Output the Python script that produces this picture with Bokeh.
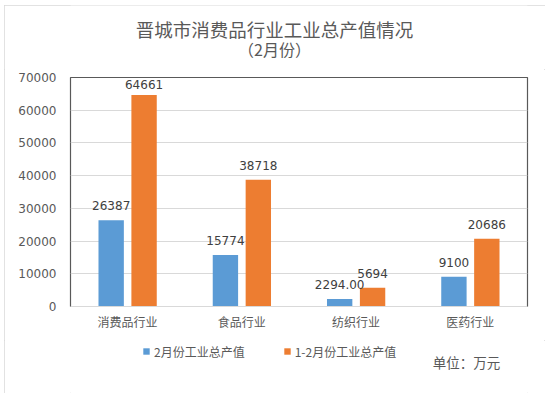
from bokeh.plotting import figure
from bokeh.layouts import column
from bokeh.models import (ColumnDataSource, FactorRange, Range1d, FixedTicker,
                          Label, Legend, LegendItem)
from bokeh.transform import dodge
from bokeh.core.properties import value
from bokeh.embed import file_html
from bokeh.resources import INLINE

categories = ["消费品行业", "食品行业", "纺织行业", "医药行业"]
feb_values = [26387, 15774, 2294.00, 9100]
janfeb_values = [64661, 38718, 5694, 20686]
feb_labels = ["26387", "15774", "2294.00", "9100"]
janfeb_labels = ["64661", "38718", "5694", "20686"]
series_names = ["2月份工业总产值", "1-2月份工业总产值"]
y_ticks = [0, 10000, 20000, 30000, 40000, 50000, 60000, 70000]
title_line1 = "晋城市消费品行业工业总产值情况"
title_line2 = "（2月份）"
unit_text = "单位：万元"

BLUE = "#5b9bd5"
ORANGE = "#ed7d31"
GRAY = "#595959"
CJK = "Noto Sans CJK SC"
NUM = "DejaVu Sans"
W = 541
YMAX = 70000
FRAME_H = 229


def strip(top_abs, bottom_abs):
    # blank strip whose data coordinates equal page pixels
    f = figure(width=W, height=bottom_abs - top_abs,
               x_range=Range1d(70, 527), y_range=Range1d(bottom_abs, top_abs),
               output_backend="svg", toolbar_location=None,
               x_axis_location=None, y_axis_location=None,
               min_border_left=66, min_border_right=18,
               min_border_top=0, min_border_bottom=0)
    f.xgrid.grid_line_color = None
    f.ygrid.grid_line_color = None
    f.outline_line_color = None
    f.background_fill_color = "white"
    f.border_fill_color = "white"
    return f


# ---- title strip (page y 5..69) ----
top = strip(5, 69)
top.add_layout(Label(x=274, y=28, text=title_line1, text_align="center",
                     text_baseline="middle", text_font=CJK, text_font_size="18.5px",
                     text_color=GRAY))
top.add_layout(Label(x=274, y=48, text=title_line2, text_align="center",
                     text_baseline="middle", text_font=CJK, text_font_size="16px",
                     text_color=GRAY))

# ---- main chart (page y 69..340, frame 77..306) ----
px = YMAX / FRAME_H
feb_ly = [min(v + 14.5 * px, YMAX - 6.7 * px) for v in feb_values]
jf_ly = [min(v + 14.5 * px, YMAX - 6.7 * px) for v in janfeb_values]
source = ColumnDataSource(dict(
    cat=categories, feb=feb_values, jf=janfeb_values,
    feb_lbl=feb_labels, jf_lbl=janfeb_labels, feb_ly=feb_ly, jf_ly=jf_ly,
))

p = figure(
    width=W, height=271,
    x_range=FactorRange(factors=categories, range_padding=0),
    y_range=Range1d(0, YMAX),
    output_backend="svg", toolbar_location=None,
    min_border_left=66, min_border_right=18,
    min_border_top=8, min_border_bottom=34,
)
p.title.text = ""
p.background_fill_color = "white"
p.border_fill_color = "white"
p.outline_line_color = GRAY
p.outline_line_width = 1.2

off = 0.144
bw = 0.222
p.vbar(x=dodge("cat", -off, range=p.x_range), top="feb", width=bw, source=source,
       fill_color=BLUE, line_color=None)
p.vbar(x=dodge("cat", off, range=p.x_range), top="jf", width=bw, source=source,
       fill_color=ORANGE, line_color=None)

p.text(x=dodge("cat", -off, range=p.x_range), y="feb_ly", text="feb_lbl", source=source,
       text_align="center", text_baseline="middle",
       text_font=value(NUM), text_font_size="12px", text_color="#404040")
p.text(x=dodge("cat", off, range=p.x_range), y="jf_ly", text="jf_lbl", source=source,
       text_align="center", text_baseline="middle",
       text_font=value(NUM), text_font_size="12px", text_color="#404040")

p.xgrid.grid_line_color = None
p.ygrid.grid_line_color = "#d9d9d9"
p.ygrid.grid_line_width = 1
p.yaxis.ticker = FixedTicker(ticks=y_ticks)
p.yaxis.axis_line_color = None
p.yaxis.major_tick_line_color = None
p.yaxis.minor_tick_line_color = None
p.yaxis.major_label_standoff = 8
p.yaxis.major_label_text_font = NUM
p.yaxis.major_label_text_font_size = "12px"
p.yaxis.major_label_text_color = GRAY

p.xaxis.axis_line_color = "#d9d9d9"
p.xaxis.major_tick_line_color = None
p.xaxis.minor_tick_line_color = None
p.xaxis.major_label_standoff = 0
p.xaxis.major_label_text_font = CJK
p.xaxis.major_label_text_font_size = "12px"
p.xaxis.major_label_text_color = GRAY

# ---- legend strip (page y 340..393) ----
bot = strip(340, 393)
k1 = bot.vbar(x="feb", top="feb", width=0, source=source,
              fill_color=BLUE, line_color=None, visible=False)
k2 = bot.vbar(x="jf", top="jf", width=0, source=source,
              fill_color=ORANGE, line_color=None, visible=False)
lg = Legend(items=[LegendItem(label=value(series_names[0]), renderers=[k1]),
                   LegendItem(label=value(series_names[1]), renderers=[k2])])
lg.orientation = "horizontal"
lg.location = (72, 33.5)
lg.padding = 0
lg.margin = 0
lg.spacing = 38
lg.glyph_width = 8
lg.glyph_height = 8
lg.label_height = 16
lg.label_standoff = 4
lg.border_line_color = None
lg.background_fill_alpha = 0
lg.label_text_font = CJK
lg.label_text_font_size = "12px"
lg.label_text_color = GRAY
bot.add_layout(lg, "center")
bot.add_layout(Label(x=466, y=361, text=unit_text, text_align="center",
                     text_baseline="middle", text_font=CJK, text_font_size="13.5px",
                     text_color=GRAY))

layout = column(top, p, bot, spacing=0)
layout.styles = {"margin-left": "4px", "margin-top": "5px",
                 "outline": "1px solid #d9d9d9", "outline-offset": "-1px"}

open("out.html", "w").write(file_html(layout, INLINE))
